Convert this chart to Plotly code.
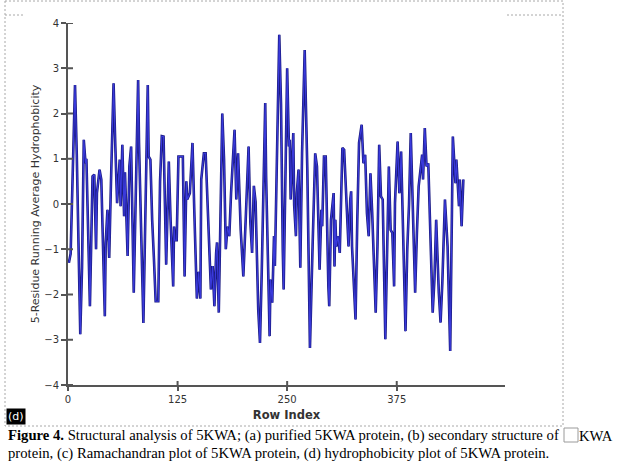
import plotly.graph_objects as go

# Residue index and 5-residue running average hydrophobicity
row_index = [1, 3, 8, 10, 14, 16, 18, 20, 21, 23, 24, 25, 28, 30, 32, 33, 36, 38, 42, 43,
             45, 47, 49, 52, 54, 56, 59, 60, 62, 64, 65, 68, 70, 72, 75, 80, 81, 86, 91, 92,
             94, 95, 96, 98, 100, 103, 105, 107, 109, 112, 115, 117, 120, 121, 122, 124, 126, 131, 133, 135,
             136, 139, 142, 144, 147, 149, 151, 152, 155, 157, 161, 163, 165, 167, 169, 170, 172, 176, 178, 180,
             182, 184, 186, 188, 190, 192, 194, 197, 200, 203, 206, 208, 210, 212, 214, 217, 219, 221, 225, 226,
             227, 230, 231, 233, 235, 236, 241, 243, 245, 246, 250, 252, 253, 254, 257, 258, 260, 261, 263, 265,
             267, 270, 273, 276, 279, 282, 284, 287, 289, 290, 292, 294, 297, 298, 300, 303, 304, 305, 306, 308,
             310, 313, 315, 318, 320, 322, 323, 324, 326, 328, 330, 332, 335, 337, 339, 341, 343, 345, 347, 351,
             353, 355, 357, 359, 362, 364, 366, 368, 370, 372, 373, 376, 378, 380, 382, 385, 387, 389, 391, 393,
             396, 398, 399, 400, 404, 405, 407, 409, 411, 414, 416, 418, 420, 423, 425, 427, 430, 433, 436, 438,
             439, 442, 443, 446, 447, 449, 451]
hydrophobicity = [-1.3, -1.1, 2.63, 1.1, -2.88, -1.4, 1.42, 0.9, 1.0, -0.7, -2.04, -2.26, 0.61, 0.65, -1.0, 0.24, 0.76, 0.54, -2.48, -0.86,
                  -0.13, -1.19, 0.46, 2.67, 1.27, 0.02, 0.98, -0.05, 1.31, -0.27, 0.7, -1.15, 0.83, 1.27, -1.96, 2.74, 1.35, -2.63, 2.63, 1.05,
                  0.98, -0.05, -0.35, -1.2, -2.15, -2.15, 0.5, 1.5, 1.49, -1.34, 0.94, -0.35, -1.82, -0.5, -0.8, -0.8, 1.05, 1.05, -1.6, 0.5,
                  0.1, 0.24, 1.35, -0.1, -2.09, -1.5, -2.09, 0.54, 1.12, 1.12, -0.64, -1.89, -1.37, -2.26, -1.08, -0.85, -2.4, 2.0, 0.98, -1.0,
                  -0.5, -0.71, 0.24, 1.12, 1.64, 0.1, 1.12, -0.57, -1.6, -0.2, 1.27, -0.4, -1.08, 0.4, 0.04, -2.33, -3.07, -1.5, 2.23, 0.61,
                  -0.35, -2.92, -1.67, -2.18, -0.71, -1.37, 3.74, 2.2, -1.0, -1.89, 3.0, 1.27, 1.42, 0.1, 1.57, -0.02, -0.71, 0.24, 0.76, -1.41,
                  1.12, 3.4, 0.76, -3.18, -0.94, 1.12, 0.83, -1.45, -0.13, -0.49, 1.05, 1.05, -1.82, -2.26, -0.35, 0.24, -1.38, -0.35, -0.94, -0.71,
                  -1.08, 1.24, 1.2, -0.27, -0.94, 0.1, 0.28, -0.94, -1.82, -2.55, -0.35, 1.35, 1.75, 0.9, 1.09, -0.2, -0.71, 0.68, -0.2, -2.4,
                  -0.94, 1.31, 0.17, 0.1, -2.99, -0.94, 0.83, -0.57, -0.64, -1.82, 0.02, 1.38, 0.24, 1.16, -0.35, -2.81, -1.0, -0.02, 1.57, 0.24,
                  -1.96, -0.64, -0.2, 0.39, 1.09, 0.54, 1.68, 0.83, 0.9, -1.15, -2.4, -1.67, -0.35, -1.96, -2.62, -1.74, 0.1, -0.94, -3.25, -0.13,
                  1.49, 0.46, 0.98, -0.05, 0.54, -0.49, 0.54]

x_ticks = [0, 125, 250, 375]
y_ticks = [-4, -3, -2, -1, 0, 1, 2, 3, 4]

W, H = 625, 467
L, R, T, B = 68, 120, 23, 82
pw, ph = W - L - R, H - T - B


def px(x):
    return (x - L) / pw


def py(y):
    return (H - B - y) / ph


fig = go.Figure()
fig.add_trace(go.Scatter(x=row_index, y=hydrophobicity, mode="lines",
                         line=dict(color="#1a1a80", width=2.6), hoverinfo="skip", showlegend=False))
fig.add_trace(go.Scatter(x=row_index, y=hydrophobicity, mode="lines",
                         line=dict(color="#3a3adc", width=1.1), showlegend=False))

axis_font = dict(family="DejaVu Sans", size=10, color="#333333")
fig.update_xaxes(range=[0, 498.5], tickvals=x_ticks, ticktext=[str(t) for t in x_ticks],
                 showgrid=False, zeroline=False, showline=True, linecolor="#555555", linewidth=2,
                 ticks="outside", ticklen=4, tickwidth=2, tickcolor="#555555", tickfont=axis_font,
                 title=dict(text="<b>Row Index</b>", font=dict(family="DejaVu Sans", size=11.5, color="#333333"), standoff=7))
fig.update_yaxes(range=[-4, 4], tickvals=y_ticks, showgrid=False, zeroline=False, showline=True,
                 linecolor="#555555", linewidth=2, ticks="outside", ticklen=5, tickwidth=2, tickcolor="#555555",
                 tickfont=axis_font,
                 title=dict(text="5-Residue Running Average Hydrophobicity",
                            font=dict(family="DejaVu Sans", size=11, color="#333333"), standoff=2))

shapes = []
# inner half of the crossing ticks
for v in y_ticks:
    shapes.append(dict(type="line", xref="paper", yref="y", x0=0, x1=5 / pw, y0=v, y1=v,
                       line=dict(color="#555555", width=2)))
for v in x_ticks[1:]:
    shapes.append(dict(type="line", xref="x", yref="paper", x0=v, x1=v, y0=0, y1=4 / ph,
                       line=dict(color="#555555", width=2)))
# dashed image frame
dash = dict(color="#a8a8a8", width=1, dash="2px,2px")
shapes.append(dict(type="rect", xref="paper", yref="paper", x0=px(5), x1=px(563), y0=py(1), y1=py(426), line=dash))
shapes.append(dict(type="line", xref="paper", yref="paper", x0=px(5), x1=px(25), y0=py(15), y1=py(15), line=dash))
shapes.append(dict(type="line", xref="paper", yref="paper", x0=px(507), x1=px(563), y0=py(15), y1=py(15), line=dash))
# placeholder box in the caption
shapes.append(dict(type="rect", xref="paper", yref="paper", x0=px(564), x1=px(578), y0=py(442), y1=py(428),
                   line=dict(color="#9a9a9a", width=1), fillcolor="white"))

annotations = [
    dict(text="(d)", xref="paper", yref="paper", x=px(6), y=py(416), xanchor="left", yanchor="middle",
         showarrow=False, font=dict(family="DejaVu Sans", size=11, color="white"), bgcolor="black", borderpad=1),
    dict(text="<b>Figure 4.</b> Structural analysis of 5KWA; (a) purified 5KWA protein, (b) secondary structure of",
         xref="paper", yref="paper", x=px(6), y=py(436), xanchor="left", yanchor="middle", showarrow=False,
         font=dict(family="Liberation Serif", size=14.7, color="black")),
    dict(text="KWA", xref="paper", yref="paper", x=px(577), y=py(436), xanchor="left", yanchor="middle",
         showarrow=False, font=dict(family="Liberation Serif", size=14.7, color="black")),
    dict(text="protein, (c) Ramachandran plot of 5KWA protein, (d) hydrophobicity plot of 5KWA protein.",
         xref="paper", yref="paper", x=px(6), y=py(454), xanchor="left", yanchor="middle", showarrow=False,
         font=dict(family="Liberation Serif", size=14.7, color="black")),
]

fig.update_layout(width=W, height=H, margin=dict(l=L, r=R, t=T, b=B),
                  paper_bgcolor="white", plot_bgcolor="white",
                  shapes=shapes, annotations=annotations, showlegend=False)

fig.write_html("out.html")
